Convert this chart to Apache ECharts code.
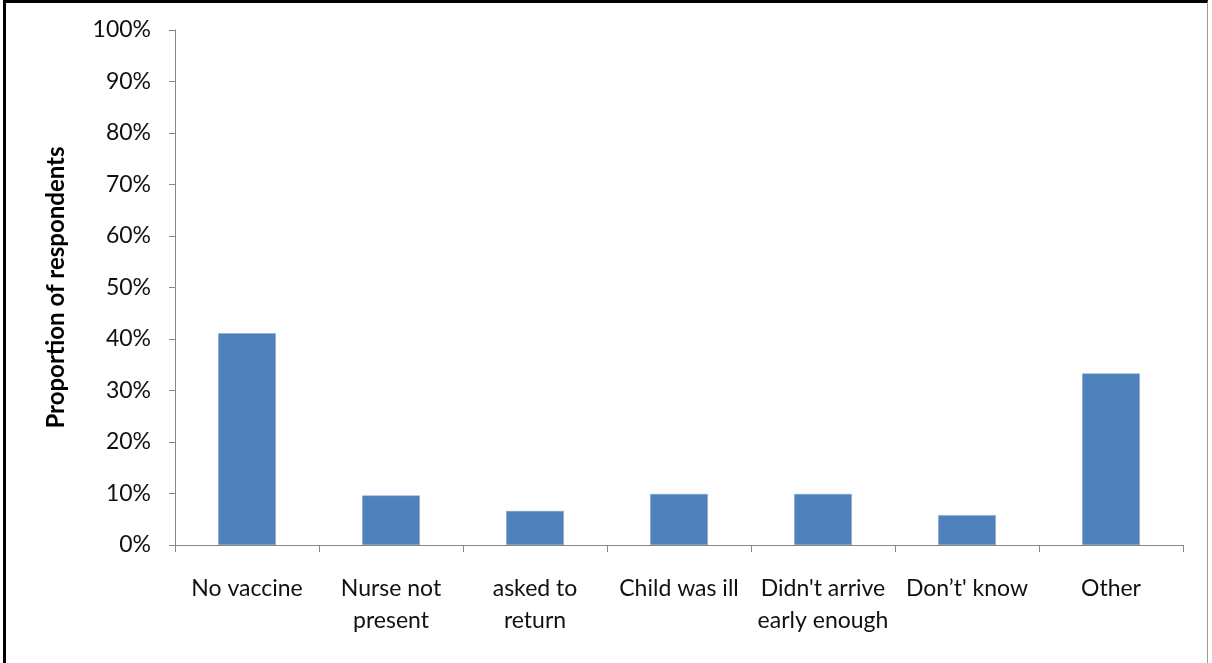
<!DOCTYPE html>
<html>
<head>
<meta charset="utf-8">
<script src="https://cdn.jsdelivr.net/npm/echarts@6/dist/echarts.min.js"></script>
<style>
  html, body { margin: 0; padding: 0; background: #fff; }
  #frame {
    position: absolute; left: 3px; top: 0; width: 1205px; height: 663px;
    border-top: 3px solid #000; border-left: 3px solid #000; border-right: 1px solid #999;
    box-sizing: border-box;
  }
  #div1 { position: absolute; left: 0; top: 0; width: 1212px; height: 663px; }
</style>
</head>
<body>
<div id="frame"></div>
<div id="div1"></div>
<script>
  // reasons given (share of respondents)
  var categories = ['No vaccine', 'Nurse not\npresent', 'asked to\nreturn', 'Child was ill',
    "Didn't arrive\nearly enough", 'Don\u2019t\' know', 'Other'];
  var values = [0.411, 0.096, 0.066, 0.099, 0.099, 0.058, 0.333];
  var yTicks = [0, 0.1, 0.2, 0.3, 0.4, 0.5, 0.6, 0.7, 0.8, 0.9, 1];

  var myChart = echarts.init(document.getElementById('div1'));
  var font = 'Lato, "Open Sans", sans-serif';
  var option = {
    animation: false,
    grid: { left: 175, right: 29, top: 30, bottom: 118 },
    xAxis: {
      type: 'category',
      data: categories,
      axisLine: { lineStyle: { color: '#868686', width: 1 } },
      axisTick: { show: true, length: 7, lineStyle: { color: '#868686' } },
      axisLabel: {
        color: '#111',
        fontSize: 23,
        fontFamily: font,
        lineHeight: 32,
        margin: 28,
        interval: 0
      }
    },
    yAxis: {
      type: 'value',
      min: yTicks[0],
      max: yTicks[yTicks.length - 1],
      interval: 0.1,
      name: 'Proportion of respondents',
      nameLocation: 'middle',
      nameGap: 107,
      nameTextStyle: { color: '#000', fontSize: 24, fontWeight: 'bold', fontFamily: font },
      axisLine: { show: true, lineStyle: { color: '#868686', width: 1 } },
      axisTick: { show: true, length: 6, lineStyle: { color: '#868686' } },
      splitLine: { show: false },
      axisLabel: {
        color: '#111',
        fontSize: 23,
        fontFamily: font,
        margin: 24,
        formatter: function (v) { return Math.round(v * 100) + '%'; }
      }
    },
    series: [
      {
        type: 'bar',
        data: values,
        barWidth: '40%',
        itemStyle: { color: '#4F81BD', borderColor: '#7DA2D0', borderWidth: 0.5 }
      }
    ]
  };
  myChart.setOption(option);
</script>
</body>
</html>
